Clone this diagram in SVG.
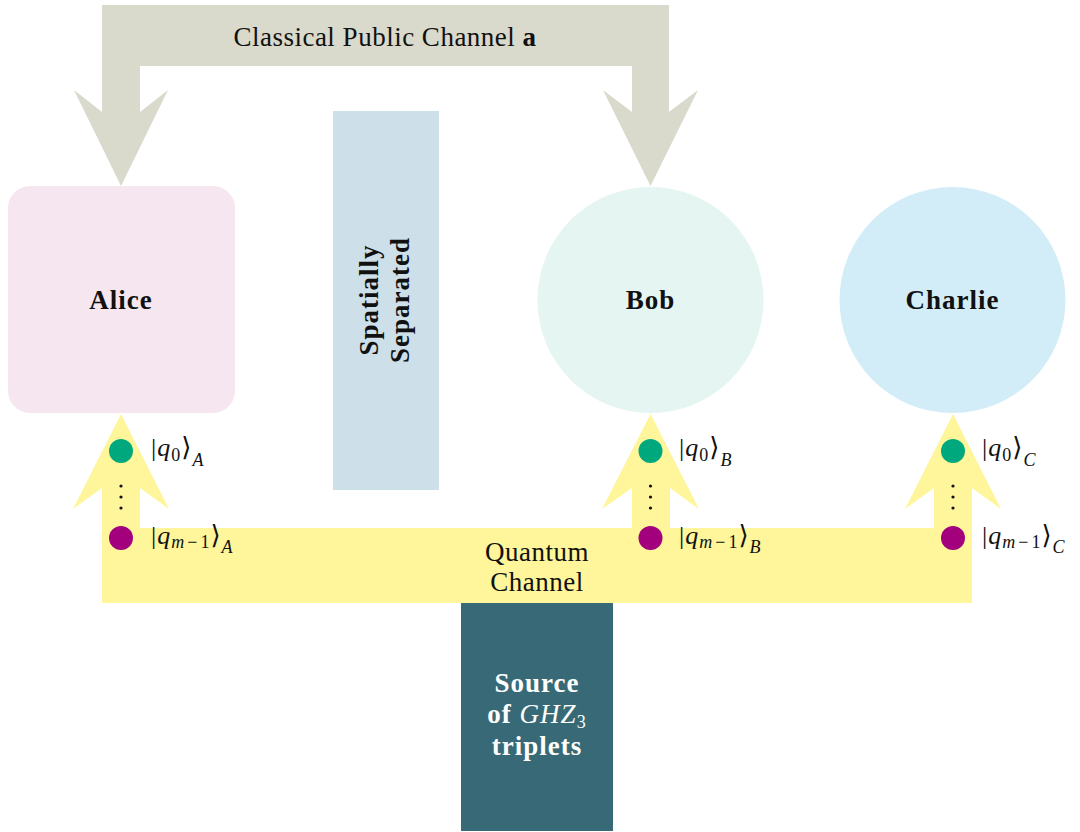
<svg xmlns="http://www.w3.org/2000/svg" width="1080" height="832" viewBox="0 0 1080 832">
<style>
  .t { font-family: "Liberation Serif", "DejaVu Serif", serif; fill: #111; }
  .b { font-weight: bold; font-size: 27px; letter-spacing: 1px; text-anchor: middle; }
  .r { font-size: 27px; letter-spacing: 0.5px; text-anchor: middle; }
  .m { font-size: 26px; letter-spacing: 1px; }
  .i { font-style: italic; }
  .s { font-size: 18px; }
  .w { fill: #ffffff; }
  .q0 { fill: #00a87e; }
  .q1 { fill: #a3007e; }
  .dot { fill: #111; }
</style>
<rect x="0" y="0" width="1080" height="832" fill="#ffffff"/>

<g id="connectors">
  <g id="classical-channel">
    <polygon fill="#d9d9cc" points="121,186 74,90 102,112 102,5 669,5 669,112 698,90 650.5,186 603,90 632,112 632,66 140,66 140,112 168,90"/>
    <text class="t r" x="385" y="46">Classical Public Channel <tspan font-weight="bold">a</tspan></text>
  </g>
  <g id="quantum-channel">
    <polygon fill="#fff59a" points="102,603 972,603 972,488 1001,509 953,414 905,509 934,488 934,528 670,528 670,488 699,509 650.5,414 602,509 632,488 632,528 140,528 140,488 169,509 121,414 73,509 102,488"/>
    <text class="t r" x="537" y="561">Quantum</text>
    <text class="t r" x="537" y="591">Channel</text>
  </g>
</g>

<g id="alice">
  <rect x="8" y="186" width="227" height="227" rx="22" fill="#f5e6f0"/>
  <text class="t b" x="121" y="309">Alice</text>
</g>

<g id="spatially-separated">
  <rect x="333" y="111" width="106" height="379" fill="#cddfe8"/>
  <text class="t b" transform="translate(386,300) rotate(-90)"><tspan x="0" y="-8">Spatially</tspan><tspan x="0" y="23">Separated</tspan></text>
</g>

<g id="bob">
  <circle cx="650.5" cy="300" r="113" fill="#e4f5f2"/>
  <text class="t b" x="650.5" y="309">Bob</text>
</g>

<g id="charlie">
  <circle cx="952.5" cy="300" r="113" fill="#d3edf8"/>
  <text class="t b" x="952.5" y="309">Charlie</text>
</g>

<g id="source">
  <rect x="461" y="603" width="152" height="228" fill="#376a76"/>
  <text class="t b w" x="537" y="692">Source</text>
  <text class="t b w" x="537" y="723">of <tspan class="i" font-weight="normal">GHZ</tspan><tspan font-weight="normal" class="s" dy="5">3</tspan></text>
  <text class="t b w" x="537" y="755">triplets</text>
</g>

<g id="qubits-alice">
  <circle class="q0" cx="121" cy="451" r="12"/>
  <circle class="dot" cx="121" cy="486" r="1.6"/>
  <circle class="dot" cx="121" cy="497" r="1.6"/>
  <circle class="dot" cx="121" cy="508" r="1.6"/>
  <circle class="q1" cx="121" cy="538" r="12"/>
  <text class="t m" x="151" y="456">|<tspan class="i">q</tspan><tspan class="s" dy="5">0</tspan><tspan dy="-5">⟩</tspan><tspan class="s i" dy="10">A</tspan></text>
  <text class="t m" x="151" y="544">|<tspan class="i">q</tspan><tspan class="s" dy="4"><tspan class="i">m</tspan><tspan dx="2">−</tspan><tspan dx="2">1</tspan></tspan><tspan dy="-4">⟩</tspan><tspan class="s i" dy="9">A</tspan></text>
</g>

<g id="qubits-bob">
  <circle class="q0" cx="650.5" cy="451" r="12"/>
  <circle class="dot" cx="650.5" cy="486" r="1.6"/>
  <circle class="dot" cx="650.5" cy="497" r="1.6"/>
  <circle class="dot" cx="650.5" cy="508" r="1.6"/>
  <circle class="q1" cx="650.5" cy="538" r="12"/>
  <text class="t m" x="679" y="456">|<tspan class="i">q</tspan><tspan class="s" dy="5">0</tspan><tspan dy="-5">⟩</tspan><tspan class="s i" dy="10">B</tspan></text>
  <text class="t m" x="679" y="544">|<tspan class="i">q</tspan><tspan class="s" dy="4"><tspan class="i">m</tspan><tspan dx="2">−</tspan><tspan dx="2">1</tspan></tspan><tspan dy="-4">⟩</tspan><tspan class="s i" dy="9">B</tspan></text>
</g>

<g id="qubits-charlie">
  <circle class="q0" cx="953" cy="451" r="12"/>
  <circle class="dot" cx="953" cy="486" r="1.6"/>
  <circle class="dot" cx="953" cy="497" r="1.6"/>
  <circle class="dot" cx="953" cy="508" r="1.6"/>
  <circle class="q1" cx="953" cy="538" r="12"/>
  <text class="t m" x="982" y="456">|<tspan class="i">q</tspan><tspan class="s" dy="5">0</tspan><tspan dy="-5">⟩</tspan><tspan class="s i" dy="10">C</tspan></text>
  <text class="t m" x="982" y="544">|<tspan class="i">q</tspan><tspan class="s" dy="4"><tspan class="i">m</tspan><tspan dx="2">−</tspan><tspan dx="2">1</tspan></tspan><tspan dy="-4">⟩</tspan><tspan class="s i" dy="9">C</tspan></text>
</g>
</svg>
